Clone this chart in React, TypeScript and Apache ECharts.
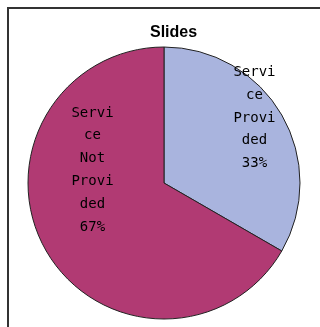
import React, { useEffect, useRef } from "react";
import * as echarts from "echarts";

const titleText = "Slides";
const categories = ["Service Provided", "Service Not Provided"];
const values = [1, 2];
const wrappedLabels = ["Servi\nce\nProvi\nded", "Servi\nce\nNot\nProvi\nded"];
const colors = ["#a9b4de", "#b13a73"];
const labelOffsets: [number, number][] = [
  [29, -31],
  [-10, -50],
];

export default function App() {
  const ref = useRef<HTMLDivElement>(null);
  useEffect(() => {
    document.documentElement.style.overflow = "hidden";
    document.body.style.margin = "0";
    document.body.style.overflow = "hidden";
    if (!ref.current) return;
    const chart = echarts.init(ref.current, undefined, { renderer: "svg" });
    chart.setOption({
      animation: false,
      title: {
        text: titleText,
        left: 145,
        top: 18,
        textStyle: {
          fontFamily: "Liberation Sans, Arial, sans-serif",
          fontWeight: "bold",
          fontSize: 16,
          color: "#000",
        },
      },
      series: [
        {
          type: "pie",
          center: [164, 183],
          radius: 136,
          startAngle: 90,
          clockwise: true,
          itemStyle: { borderColor: "#222", borderWidth: 1 },
          label: {
            show: true,
            position: "inside",
            fontFamily: "DejaVu Sans Mono, monospace",
            fontSize: 14,
            lineHeight: 22.8,
            color: "#000",
            align: "center",
          },
          labelLine: { show: false },
          emphasis: { disabled: true },
          data: categories.map((name, i) => ({
            name,
            value: values[i],
            itemStyle: { color: colors[i] },
            label: {
              offset: labelOffsets[i],
              formatter: (p: any) => `${wrappedLabels[i]}\n${Math.round(p.percent)}%`,
            },
          })),
        },
      ],
    });
    return () => chart.dispose();
  }, []);
  return (
    <div style={{ position: "fixed", left: 0, top: 0, width: 320, height: 327, overflow: "hidden" }}>
      <div
        style={{
          position: "absolute",
          left: 7,
          top: 7,
          width: 313,
          height: 320,
          borderTop: "2px solid #333",
          borderLeft: "2px solid #333",
          boxSizing: "border-box",
        }}
      />
      <div
        ref={ref}
        style={{ position: "absolute", left: 0, top: 0, width: 320, height: 327 }}
      />
    </div>
  );
}
